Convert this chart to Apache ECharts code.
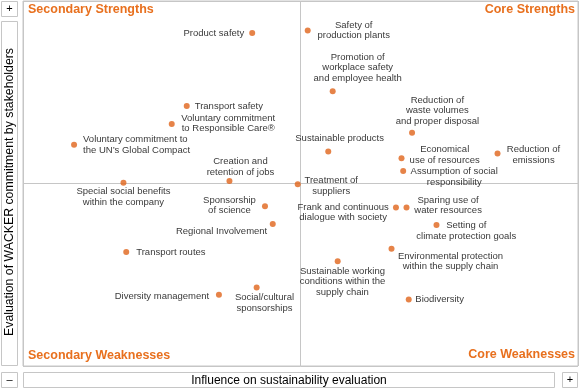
<!DOCTYPE html>
<html>
<head>
<meta charset="utf-8">
<script src="https://cdn.jsdelivr.net/npm/echarts@6/dist/echarts.min.js"></script>
<style>html,body{margin:0;padding:0;background:#fff}#c{width:580px;height:389px}</style>
</head>
<body>
<div id="c"></div>
<script>
// ---- data ----
var topics = [
  "Product safety",
  "Safety of\nproduction plants",
  "Promotion of\nworkplace safety\nand employee health",
  "Transport safety",
  "Voluntary commitment\nto Responsible Care®",
  "Voluntary commitment to\nthe UN’s Global Compact",
  "Creation and\nretention of jobs",
  "Special social benefits\nwithin the company",
  "Sponsorship\nof science",
  "Regional Involvement",
  "Transport routes",
  "Diversity management",
  "Social/cultural\nsponsorships",
  "Treatment of\nsuppliers",
  "Sustainable products",
  "Reduction of\nwaste volumes\nand proper disposal",
  "Economical\nuse of resources",
  "Reduction of\nemissions",
  "Assumption of social\nresponsibility",
  "Frank and continuous\ndialogue with society",
  "Sparing use of\nwater resources",
  "Setting of\nclimate protection goals",
  "Environmental protection\nwithin the supply chain",
  "Sustainable working\nconditions within the\nsupply chain",
  "Biodiversity"
];
// influence on sustainability evaluation (x)
var influence = [41.3, 51.3, 55.8, 29.5, 26.8, 9.2, 37.2, 18.1, 43.6, 45.0, 18.6, 35.3, 42.1,
                 49.5, 55.0, 70.1, 68.2, 85.5, 68.5, 67.2, 69.1, 74.5, 66.4, 56.7, 69.5];
// evaluation of WACKER commitment by stakeholders (y)
var commitment = [91.2, 91.9, 75.3, 71.2, 66.3, 60.6, 50.7, 50.2, 43.8, 38.9, 31.2, 19.5, 21.5,
                  49.8, 58.8, 63.9, 56.9, 58.2, 53.4, 43.4, 43.4, 38.6, 32.1, 28.7, 18.2];
var quadrantNames = ["Secondary Strengths", "Core Strengths", "Secondary Weaknesses", "Core Weaknesses"];
var xAxisTitle = "Influence on sustainability evaluation";
var yAxisTitle = "Evaluation of WACKER commitment by stakeholders";

// ---- label placement (style only): [dx, dy, align] relative to the dot ----
var labelPlace = [
  [-8, 0, 'right'], [46, 0, 'center'], [25, -23.5, 'center'], [8, 0, 'left'],
  [56.5, -0.5, 'center'], [9, 0, 'left'], [11, -14.3, 'center'], [0, 14, 'center'],
  [-35.5, -1, 'center'], [-5.5, 7.7, 'right'], [10, 0.5, 'left'], [-9.7, 1.7, 'right'],
  [7.8, 15.3, 'center'], [33.5, 1.7, 'center'], [11.4, -13, 'center'], [25.3, -22, 'center'],
  [43.2, -3.3, 'center'], [36, 1.3, 'center'], [51, 6, 'center'], [-52.8, 5, 'center'],
  [41.6, -2, 'center'], [29.8, 5.7, 'center'], [59, 12.7, 'center'], [4.8, 20.5, 'center'],
  [6.6, 0.3, 'left']
];

var ORANGE = '#e8701e';
var DOT = '#e0641a';
var BORDER = '#c6c6c6';
var FONT = '"Liberation Sans", Arial, Helvetica, sans-serif';

var pts = topics.map(function (n, i) {
  var p = labelPlace[i];
  return {
    name: n,
    value: [influence[i], commitment[i]],
    label: { position: [p[0] + 3, p[1] + 3], align: p[2], verticalAlign: 'middle' }
  };
});

var chart = echarts.init(document.getElementById('c'), null, { renderer: 'canvas' });
chart.setOption({
  animation: false,
  backgroundColor: '#fff',
  grid: { left: 23, right: 2, top: 1, bottom: 23, show: true, borderColor: BORDER, borderWidth: 1, containLabel: false },
  xAxis: {
    type: 'value', min: 0, max: 100, interval: 50,
    axisLine: { show: false }, axisTick: { show: false }, axisLabel: { show: false },
    splitLine: { show: true, lineStyle: { color: BORDER, width: 1 } }
  },
  yAxis: {
    type: 'value', min: 0, max: 100, interval: 50,
    axisLine: { show: false }, axisTick: { show: false }, axisLabel: { show: false },
    splitLine: { show: true, lineStyle: { color: BORDER, width: 1 } }
  },
  series: [{
    type: 'scatter',
    symbol: 'circle',
    symbolSize: 6,
    itemStyle: { color: DOT },
    label: {
      show: true,
      formatter: '{b}',
      color: '#000',
      fontFamily: FONT,
      fontSize: 9.5,
      lineHeight: 10.5
    },
    labelLayout: { hideOverlap: false },
    data: pts
  }],
  graphic: [
    // quadrant names
    { type: 'text', left: 28, top: 3, style: { text: quadrantNames[0], fill: ORANGE, font: 'bold 12.5px ' + FONT } },
    { type: 'text', right: 5, top: 3, style: { text: quadrantNames[1], fill: ORANGE, font: 'bold 12.5px ' + FONT } },
    { type: 'text', left: 28, top: 349, style: { text: quadrantNames[2], fill: ORANGE, font: 'bold 12.5px ' + FONT } },
    { type: 'text', right: 5, top: 348.5, style: { text: quadrantNames[3], fill: ORANGE, font: 'bold 12.5px ' + FONT } },
    // side boxes
    { type: 'rect', shape: { x: 1.5, y: 1.5, width: 16, height: 15 }, style: { fill: '#fff', stroke: BORDER, lineWidth: 1 } },
    { type: 'text', x: 9.5, y: 9, style: { text: '+', fill: '#000', font: '11px ' + FONT, align: 'center', verticalAlign: 'middle' } },
    { type: 'rect', shape: { x: 1.5, y: 21.5, width: 16, height: 344 }, style: { fill: '#fff', stroke: BORDER, lineWidth: 1 } },
    { type: 'text', x: 9.5, y: 192, rotation: Math.PI / 2, style: { text: yAxisTitle, fill: '#000', font: '12.3px ' + FONT, align: 'center', verticalAlign: 'middle' } },
    { type: 'rect', shape: { x: 1.5, y: 372.5, width: 16, height: 15 }, style: { fill: '#fff', stroke: BORDER, lineWidth: 1 } },
    { type: 'text', x: 9.5, y: 380, style: { text: '–', fill: '#000', font: '11px ' + FONT, align: 'center', verticalAlign: 'middle' } },
    { type: 'rect', shape: { x: 23.5, y: 372.5, width: 531, height: 15 }, style: { fill: '#fff', stroke: BORDER, lineWidth: 1 } },
    { type: 'text', x: 289, y: 380.5, style: { text: xAxisTitle, fill: '#000', font: '12px ' + FONT, align: 'center', verticalAlign: 'middle' } },
    { type: 'rect', shape: { x: 562.5, y: 372.5, width: 15, height: 15 }, style: { fill: '#fff', stroke: BORDER, lineWidth: 1 } },
    { type: 'text', x: 570, y: 380, style: { text: '+', fill: '#000', font: '11px ' + FONT, align: 'center', verticalAlign: 'middle' } }
  ]
});
</script>
</body>
</html>
